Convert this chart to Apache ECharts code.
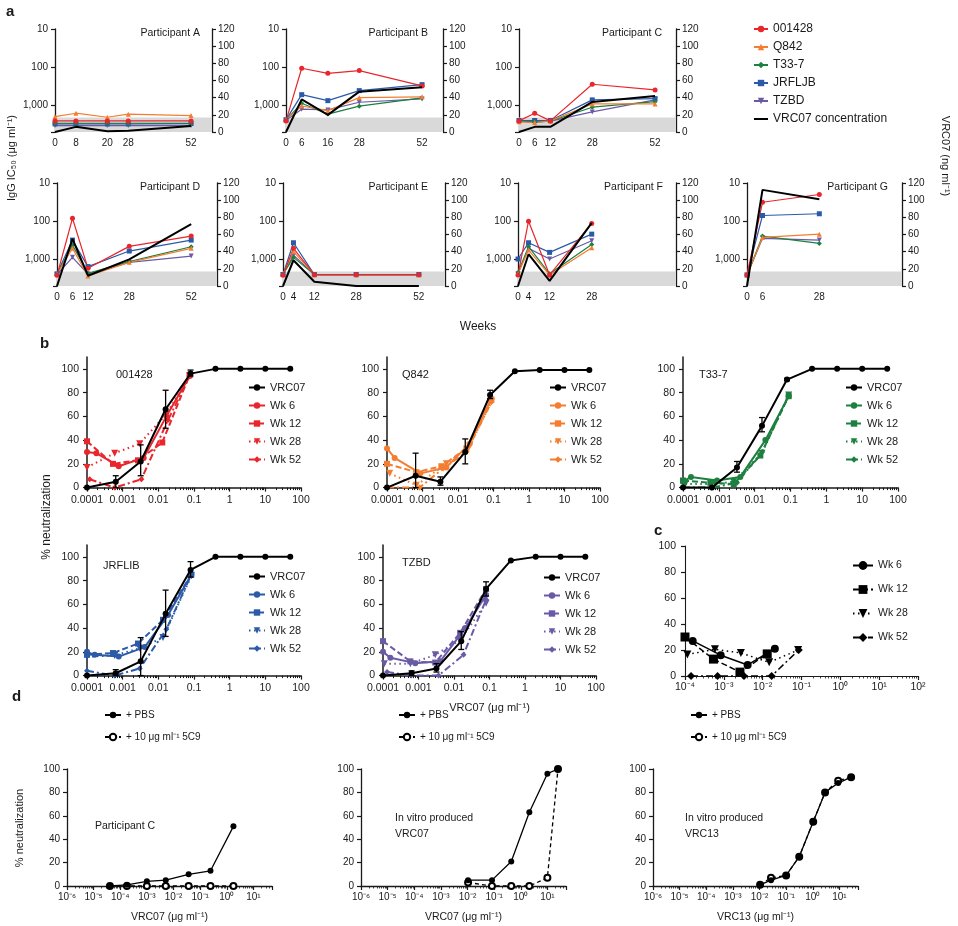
<!DOCTYPE html>
<html><head><meta charset="utf-8">
<script src="https://cdn.jsdelivr.net/npm/echarts@6/dist/echarts.min.js"></script>
<style>html,body{margin:0;padding:0;background:#fff}#c{width:958px;height:926px}</style>
</head><body><div id="c"></div>
<script>
// ================= DATA =================
const strainNames = ['001428', 'Q842', 'T33-7', 'JRFLJB', 'TZBD'];
const lodBand = 17;
const weeksA = [0, 8, 20, 28, 52];
const ic50A = [[2560, 2560, 2560, 2560, 2560], [1980, 1610, 2050, 1710, 1860], [2950, 2950, 2950, 2950, 2950], [3070, 3070, 3070, 3070, 3000], [3390, 3390, 3390, 3390, 3390]];
const vrc07A = [0, 6, 1, 1.5, 7];
const weeksB = [0, 6, 16, 28, 52];
const ic50B = [[2560, 107, 145, 123, 310], [2400, 1040, 1380, 630, 600], [2450, 880, 1700, 1050, 640], [2400, 525, 754, 412, 287], [2450, 1260, 1320, 830, 680]];
const vrc07B = [0, 38, 20, 47, 52];
const weeksC = [0, 6, 12, 28, 52];
const ic50C = [[2560, 1610, 2560, 280, 395], [2700, 2830, 2560, 920, 920], [2600, 2700, 2600, 1120, 800], [2500, 2500, 2500, 720, 667], [2600, 2700, 2600, 1490, 720]];
const vrc07C = [0, 6, 6, 35, 42];
const weeksD = [0, 6, 12, 28, 52];
const ic50D = [[2620, 84, 1720, 457, 246], [2420, 516, 2730, 1200, 516], [2500, 424, 2320, 1150, 468], [2400, 313, 1550, 607, 313], [2500, 887, 2420, 1200, 820]];
const vrc07D = [0, 55, 12, 31, 72];
const weeksE = [0, 4, 12, 28, 52];
const ic50E = [[2620, 516, 2520, 2520, 2520], [2500, 630, 2520, 2520, 2520], [2500, 887, 2520, 2520, 2520], [2500, 368, 2520, 2520, 2520], [2500, 785, 2520, 2520, 2520]];
const vrc07E = [0, 30, 5, 0, 0];
const weeksF = [0, 4, 12, 28];
const ic50F = [[2570, 100, 2570, 115], [2400, 571, 2570, 497], [2200, 468, 2400, 407], [982, 368, 657, 219], [2400, 516, 982, 327]];
const vrc07F = [0, 37, 6, 73.5];
const weeksG = [0, 6, 28];
const ic50G = [[2570, 32, 20], [2570, 267, 219], [2600, 246, 383], [2570, 71, 64], [2600, 282, 313]];
const vrc07G = [0, 112, 101];

// Panel b
const bStrains = ['001428', 'Q842', 'T33-7', 'JRFLIB', 'TZBD'];
const weekNames = ['Wk 6', 'Wk 12', 'Wk 28', 'Wk 52'];
const vrcConc = [0.0001, 0.00064, 0.0032, 0.016, 0.08, 0.4, 2, 10, 50];
const vrcNeut = [[0, 5, 22, 66, 96, 100, 100, 100, 100], [0, 10, 5, 30, 78, 98, 99, 99, 99], [0, 0, 17, 52, 91, 100, 100, 100, 100], [0, 2, 12, 52, 89, 100, 100, 100, 100], [0, 2, 6, 29, 73, 97, 100, 100, 100]];
const errConc = [0.00064, 0.0032, 0.016, 0.08];
const errLow = [[0, 10, 50, 94], [0, 2, 20, 75], [0, 13, 47, 90], [0, 0, 33, 83], [0, 3, 22, 67]];
const errHigh = [[10, 36, 82, 99], [29, 9, 41, 82], [0, 22, 59, 92], [5, 32, 72, 96], [4, 10, 37, 79]];
const serumX = [
  [[1e-4, 1.83e-4, 7.73e-4, 3.88e-3, 0.0168, 0.0757], [1e-4, 5.36e-4, 2.69e-3, 0.0129, 0.0757], [1e-4, 5.97e-4, 3.0e-3, 0.0168, 0.0757], [1.19e-4, 5.97e-4, 3.34e-3, 0.0187, 0.0757]],
  [[1e-4, 1.64e-4, 8.7e-4, 4.7e-3, 0.0213, 0.087], [1e-4, 6.7e-4, 3.4e-3, 0.0172, 0.087], [1.19e-4, 6.7e-4, 4.7e-3, 0.0213, 0.087], [1e-4, 8.3e-4, 3.78e-3, 0.0172, 0.087]],
  [[1e-4, 1.67e-4, 8.9e-4, 3.98e-3, 0.0199, 0.089], [1e-4, 5.8e-4, 2.6e-3, 0.0144, 0.089], [1.16e-4, 7.98e-4, 2.6e-3, 0.016, 0.089], [1e-4, 6.4e-4, 3.2e-3, 0.016, 0.089]],
  [[1e-4, 1.64e-4, 7.73e-4, 4.14e-3, 0.0187, 0.084], [1e-4, 5.36e-4, 2.69e-3, 0.0135, 0.084], [1e-4, 5.97e-4, 3.0e-3, 0.0135, 0.084], [1e-4, 5.97e-4, 3.0e-3, 0.0168, 0.084]],
  [[1e-4, 1.61e-4, 8.1e-4, 4.09e-3, 0.0207, 0.08], [1e-4, 5.9e-4, 2.96e-3, 0.0149, 0.08], [1.09e-4, 5.9e-4, 2.96e-3, 0.0149, 0.08], [1.3e-4, 6.25e-4, 3.67e-3, 0.0185, 0.08]]
];
const serumY = [
  [[30, 29, 18, 25, 60, 94], [39, 20, 23, 38, 95], [17, 29, 37, 62, 94], [7, 0, 7, 57, 94]],
  [[33, 25, 12, 17, 37, 75], [20, 13, 18, 33, 74], [12, 2, 20, 35, 72], [0, 0, 16, 30, 72]],
  [[5, 9, 6, 9, 40, 77], [6, 4, 3, 27, 77], [3, 3, 5, 29, 78], [0, 0, 4, 30, 78]],
  [[20, 17.5, 16, 24, 51, 85], [17.5, 19, 27, 47, 85], [16, 17, 23, 32, 84], [4, 0, 6, 39, 85]],
  [[20, 15, 10.5, 12, 40, 68], [29, 12, 11, 36, 73], [10, 10, 17.5, 30, 61], [3, 0, 0, 17.5, 64]]
];

// Panel c
const cX = [[1.58e-4, 8.3e-4, 4.1e-3, 0.0206], [1e-4, 5.4e-4, 2.6e-3, 0.0131], [1.15e-4, 5.9e-4, 2.75e-3, 0.0147, 0.082], [1.43e-4, 6.9e-4, 3.3e-3, 0.017, 0.085]];
const cY = [[27, 16, 8.5, 21], [30, 13, 3, 17], [16.5, 20.6, 17.7, 10.5, 20], [0, 0, 0, 0, 20]];

// Panel d
const dNames = ['+ PBS', '+ 10 μg ml⁻¹ 5C9'];
const d1X = [4.1e-5, 1.78e-4, 1.0e-3, 5.1e-3, 0.037, 0.245, 1.78];
const d1PBS = [0, 1, 4, 5, 10, 13, 51];
const d15C9 = [0, 0, 0, 0, 0, 0, 0];
const d2X = [0.0105, 0.083, 0.44, 2.1, 10, 25];
const d2PBS = [5, 5, 21, 63, 96, 100];
const d25C9 = [3, 0, 0, 0, 7, 100];
const d3X = [0.0105, 0.027, 0.1, 0.31, 1.04, 2.9, 9, 27.6];
const d3PBS = [1, 5, 9, 25, 55, 80, 88, 93];
const d35C9 = [1, 7, 9, 25, 55, 80, 90, 93];

// ================= STYLE / LAYOUT =================
const FONT = '"Liberation Sans", Arial, Helvetica, sans-serif';
const INK = '#1a1a1a';
const strainColors = ['#e8262b', '#f47d30', '#1d8040', '#2b5aa8', '#6a5aa6'];
const strainSymbols = ['circle', 'triangle', 'diamond', 'rect', 'triangle'];
const strainRotate = [0, 0, 0, 0, 180];
const wkTypes = ['solid', [6, 3], [1.5, 3.5], [7, 3, 2, 3]];
const wkSymbols = ['circle', 'rect', 'triangle', 'diamond'];
const wkRotate = [0, 0, 180, 0];

const aPanels = [
  {name: 'A', weeks: weeksA, ic: ic50A, vrc: vrc07A, left: 55, top: 29, width: 157, xmax: 60, tx: 200},
  {name: 'B', weeks: weeksB, ic: ic50B, vrc: vrc07B, left: 286, top: 29, width: 157, xmax: 60, tx: 428},
  {name: 'C', weeks: weeksC, ic: ic50C, vrc: vrc07C, left: 519, top: 29, width: 157, xmax: 60, tx: 662},
  {name: 'D', weeks: weeksD, ic: ic50D, vrc: vrc07D, left: 57, top: 183, width: 160, xmax: 62, tx: 200},
  {name: 'E', weeks: weeksE, ic: ic50E, vrc: vrc07E, left: 283, top: 183, width: 162, xmax: 62, tx: 428},
  {name: 'F', weeks: weeksF, ic: ic50F, vrc: vrc07F, left: 518, top: 183, width: 158, xmax: 60, tx: 663},
  {name: 'G', weeks: weeksG, ic: ic50G, vrc: vrc07G, left: 747, top: 183, width: 155, xmax: 60, tx: 888}
];
const bPanels = [
  {left: 87, top: 357, width: 214, lgx: 248, lgy: 381, tx: 116, ty: 375},
  {left: 387, top: 357, width: 213, lgx: 549, lgy: 381, tx: 402, ty: 375},
  {left: 683, top: 357, width: 215, lgx: 845, lgy: 381, tx: 699, ty: 375},
  {left: 87, top: 545, width: 214, lgx: 248, lgy: 570, tx: 103, ty: 566},
  {left: 383, top: 545, width: 213, lgx: 543, lgy: 571, tx: 402, ty: 563}
];

const zip = (xs, ys) => xs.map((x, i) => [x, ys[i]]);
const supMap = {'-': '⁻', '0': '⁰', '1': '¹', '2': '²', '3': '³', '4': '⁴', '5': '⁵', '6': '⁶', '7': '⁷', '8': '⁸', '9': '⁹'};
const isPow = v => Math.abs(Math.log10(v) - Math.round(Math.log10(v))) < 1e-6;
const powLabel = v => isPow(v) ? '10' + String(Math.round(Math.log10(v))).split('').map(c => supMap[c]).join('') : '';
const decLabel = v => {
  if (!isPow(v)) return '';
  const e = Math.round(Math.log10(v));
  return e < 0 ? Number(Math.pow(10, e).toFixed(-e)).toString() : String(Math.pow(10, e));
};
const minorLogs = (lo, hi) => {
  const out = [];
  for (let e = Math.floor(lo); e < Math.ceil(hi); e++) for (let m = 2; m <= 9; m++) {
    const v = e + Math.log10(m);
    if (v > lo && v < hi) out.push(v);
  }
  return out;
};

const axLine = (w) => ({show: true, onZero: false, lineStyle: {color: INK, width: w || 1.3}});
const axTick = (len) => ({show: true, length: len || 4, lineStyle: {color: INK, width: 1.2}});

const option = {
  animation: false,
  backgroundColor: '#fff',
  textStyle: {fontFamily: FONT, color: INK},
  grid: [], xAxis: [], yAxis: [], series: [], legend: [], graphic: []
};
const gText = (text, x, y, opts) => option.graphic.push(Object.assign({
  type: 'text', x: x, y: y, silent: true,
  style: Object.assign({text: text, fill: INK, font: (opts && opts.font) || ('11px ' + FONT), textAlign: 'left', textVerticalAlign: 'middle'}, (opts && opts.style) || {})
}, (opts && opts.el) || {}));
// decorative minor-tick ruler on a log x axis (auxiliary value axis in log10 units)
const addRuler = (gi, lo, hi, w) => option.xAxis.push({gridIndex: gi, type: 'value', position: 'bottom', min: lo, max: hi,
  axisLine: {show: false, onZero: false}, axisLabel: {show: false}, splitLine: {show: false},
  axisTick: {show: true, length: 2.5, customValues: minorLogs(lo, hi), lineStyle: {color: INK, width: w || 1}}});

// ---------- Panel a ----------
aPanels.forEach((p, gi) => {
  option.grid.push({left: p.left, top: p.top, width: p.width, height: 103});
  option.xAxis.push({gridIndex: gi, type: 'value', min: 0, max: p.xmax,
    axisLine: {show: false, onZero: false}, axisTick: {show: false}, splitLine: {show: false},
    axisLabel: {customValues: p.weeks, fontSize: 10, color: INK, margin: 6, fontFamily: FONT}});
  option.yAxis.push({gridIndex: gi, type: 'log', logBase: 10, inverse: true, min: 10, max: 5000, position: 'left',
    axisLine: axLine(1.3), axisTick: axTick(4), splitLine: {show: false},
    axisLabel: {fontSize: 10, color: INK, margin: 7, fontFamily: FONT,
      formatter: v => (Math.abs(v - 10) < 1e-6 ? '10' : Math.abs(v - 100) < 1e-6 ? '100' : Math.abs(v - 1000) < 1e-6 ? '1,000' : '')}});
  option.yAxis.push({gridIndex: gi, type: 'value', min: 0, max: 120, interval: 20, position: 'right',
    axisLine: axLine(1.3), axisTick: axTick(4), splitLine: {show: false},
    axisLabel: {fontSize: 10, color: INK, margin: 6, fontFamily: FONT}});
  const yl = gi * 2, yr = gi * 2 + 1;
  for (let s = strainNames.length - 1; s >= 0; s--) {
    option.series.push({type: 'line', name: strainNames[s], xAxisIndex: gi, yAxisIndex: yl,
      data: zip(p.weeks, p.ic[s]), symbol: strainSymbols[s], symbolRotate: strainRotate[s], symbolSize: 5,
      lineStyle: {color: strainColors[s], width: 1.2}, itemStyle: {color: strainColors[s]}, z: 4});
  }
  option.series.push({type: 'line', name: 'VRC07 concentration', xAxisIndex: gi, yAxisIndex: yr,
    data: zip(p.weeks, p.vrc), symbol: 'none', lineStyle: {color: '#000', width: 2}, itemStyle: {color: '#000'}, z: 5,
    markArea: {silent: true, itemStyle: {color: '#d9d9d9'}, data: [[{yAxis: 0}, {yAxis: lodBand}]]}});
  gText('Participant ' + p.name, p.tx, p.top + 4, {font: '10.5px ' + FONT, style: {textAlign: 'right'}});
});
option.legend.push({left: 753, top: 22, orient: 'vertical', itemWidth: 14, itemHeight: 8, itemGap: 4, padding: 0,
  selectedMode: false, textStyle: {fontSize: 12, color: INK, fontFamily: FONT, lineHeight: 14},
  data: strainNames.concat([{name: 'VRC07 concentration', itemStyle: {opacity: 0}}])});

// ---------- Panel b ----------
bPanels.forEach((p, k) => {
  const gi = option.grid.length;
  option.grid.push({left: p.left, top: p.top, width: p.width, height: 130.6});
  const xi = option.xAxis.length;
  option.xAxis.push({gridIndex: gi, type: 'log', logBase: 10, min: 0.0001, max: 100, position: 'bottom',
    axisLine: axLine(1.5), axisTick: axTick(4), splitLine: {show: false},
    axisLabel: {fontSize: 10.5, color: INK, margin: 7, fontFamily: FONT, formatter: decLabel},
    name: k === 4 ? 'VRC07 (μg ml⁻¹)' : '', nameLocation: 'middle', nameGap: 27,
    nameTextStyle: {fontSize: 11, color: INK, fontFamily: FONT}});
  addRuler(gi, -4, 2, 1);
  const yi = option.yAxis.length;
  option.yAxis.push({gridIndex: gi, type: 'value', min: 0, max: 110, interval: 20,
    axisLine: axLine(1.5), axisTick: Object.assign(axTick(4), {customValues: [0, 20, 40, 60, 80, 100]}), splitLine: {show: false},
    axisLabel: {fontSize: 10.5, color: INK, margin: 8, fontFamily: FONT, customValues: [0, 20, 40, 60, 80, 100]}});
  const col = strainColors[k];
  for (let w = weekNames.length - 1; w >= 0; w--) {
    option.series.push({type: 'line', name: bStrains[k] + ':' + weekNames[w], xAxisIndex: xi, yAxisIndex: yi,
      data: zip(serumX[k][w], serumY[k][w]), symbol: wkSymbols[w], symbolRotate: wkRotate[w], symbolSize: w === 2 ? 7 : 6,
      lineStyle: {color: col, width: 2, type: wkTypes[w]}, itemStyle: {color: col}, z: 3});
  }
  option.series.push({type: 'line', name: bStrains[k] + ':VRC07', xAxisIndex: xi, yAxisIndex: yi,
    data: zip(vrcConc, vrcNeut[k]), symbol: 'circle', symbolSize: 6,
    lineStyle: {color: '#000', width: 2}, itemStyle: {color: '#000'}, z: 5});
  option.series.push({type: 'custom', xAxisIndex: xi, yAxisIndex: yi, z: 6, silent: true,
    data: errConc.map((x, i) => [x, errLow[k][i], errHigh[k][i]]), encode: {x: 0, y: [1, 2]},
    renderItem: (params, api) => {
      const x = api.value(0), lo = api.value(1), hi = api.value(2);
      if (hi - lo < 0.5) return {type: 'group', children: []};
      const p1 = api.coord([x, lo]), p2 = api.coord([x, hi]), w = 3;
      const st = {stroke: '#000', lineWidth: 1.3};
      return {type: 'group', children: [
        {type: 'line', shape: {x1: p1[0], y1: p1[1], x2: p2[0], y2: p2[1]}, style: st},
        {type: 'line', shape: {x1: p1[0] - w, y1: p1[1], x2: p1[0] + w, y2: p1[1]}, style: st},
        {type: 'line', shape: {x1: p2[0] - w, y1: p2[1], x2: p2[0] + w, y2: p2[1]}, style: st}]};
    }});
  option.legend.push({left: p.lgx, top: p.lgy, orient: 'vertical', itemWidth: 16, itemHeight: 8, itemGap: 5, padding: 0,
    selectedMode: false, textStyle: {fontSize: 11, color: INK, fontFamily: FONT, lineHeight: 13},
    formatter: n => n.split(':')[1],
    data: [bStrains[k] + ':VRC07'].concat(weekNames.map(w => bStrains[k] + ':' + w))});
  gText(bStrains[k], p.tx, p.ty, {font: '11px ' + FONT});
});

// ---------- Panel c ----------
{
  const gi = option.grid.length;
  option.grid.push({left: 685, top: 546, width: 233, height: 130});
  const xi = option.xAxis.length;
  option.xAxis.push({gridIndex: gi, type: 'log', logBase: 10, min: 0.0001, max: 100, position: 'bottom',
    axisLine: axLine(1.1), axisTick: axTick(4), splitLine: {show: false},
    axisLabel: {fontSize: 10.5, color: INK, margin: 6, fontFamily: FONT, formatter: powLabel}});
  addRuler(gi, -4, 2, 0.8);
  const yi = option.yAxis.length;
  option.yAxis.push({gridIndex: gi, type: 'value', min: 0, max: 100, interval: 20,
    axisLine: axLine(1.1), axisTick: axTick(4), splitLine: {show: false},
    axisLabel: {fontSize: 10.5, color: INK, margin: 9, fontFamily: FONT}});
  for (let w = weekNames.length - 1; w >= 0; w--) {
    option.series.push({type: 'line', name: 'c:' + weekNames[w], xAxisIndex: xi, yAxisIndex: yi,
      data: zip(cX[w], cY[w]), symbol: wkSymbols[w], symbolRotate: wkRotate[w], symbolSize: w === 1 ? 9 : 8,
      lineStyle: {color: '#000', width: 1.5, type: wkTypes[w]}, itemStyle: {color: '#000'}, z: 3});
  }
  option.legend.push({left: 852, top: 559, orient: 'vertical', itemWidth: 20, itemHeight: 11, itemGap: 11, padding: 0,
    selectedMode: false, textStyle: {fontSize: 10.5, color: INK, fontFamily: FONT, lineHeight: 13},
    formatter: n => n.split(':')[1], data: weekNames.map(w => 'c:' + w)});
}

// ---------- Panel d ----------
const dPanels = [
  {left: 67, x: d1X, pbs: d1PBS, mab: d15C9, xname: 'VRC07 (μg ml⁻¹)', lgx: 104, note: ['Participant C'], nx: 95, ny: 826},
  {left: 361, x: d2X, pbs: d2PBS, mab: d25C9, xname: 'VRC07 (μg ml⁻¹)', lgx: 398, note: ['In vitro produced', 'VRC07'], nx: 395, ny: 818},
  {left: 653, x: d3X, pbs: d3PBS, mab: d35C9, xname: 'VRC13 (μg ml⁻¹)', lgx: 690, note: ['In vitro produced', 'VRC13'], nx: 685, ny: 818}
];
dPanels.forEach((p) => {
  const gi = option.grid.length;
  option.grid.push({left: p.left, top: 769, width: 205, height: 117});
  const xi = option.xAxis.length;
  option.xAxis.push({gridIndex: gi, type: 'log', logBase: 10, min: 1e-6, max: 50, position: 'bottom',
    axisLine: axLine(1.3), axisTick: axTick(4), splitLine: {show: false},
    axisLabel: {fontSize: 10, color: INK, margin: 6, fontFamily: FONT, formatter: powLabel},
    name: p.xname, nameLocation: 'middle', nameGap: 26, nameTextStyle: {fontSize: 10.5, color: INK, fontFamily: FONT}});
  addRuler(gi, -6, Math.log10(50), 0.8);
  const yi = option.yAxis.length;
  option.yAxis.push({gridIndex: gi, type: 'value', min: 0, max: 100, interval: 20,
    axisLine: axLine(1.3), axisTick: axTick(4), splitLine: {show: false},
    axisLabel: {fontSize: 10, color: INK, margin: 7, fontFamily: FONT}});
  option.series.push({type: 'line', name: dNames[1], xAxisIndex: xi, yAxisIndex: yi, data: zip(p.x, p.mab),
    symbol: 'emptyCircle', symbolSize: 6, lineStyle: {color: '#000', width: 1.3, type: [4, 3]}, itemStyle: {color: '#000', borderWidth: 1.2}, z: 3});
  option.series.push({type: 'line', name: dNames[0], xAxisIndex: xi, yAxisIndex: yi, data: zip(p.x, p.pbs),
    symbol: 'circle', symbolSize: 6, lineStyle: {color: '#000', width: 1.3}, itemStyle: {color: '#000'}, z: 4});
  option.legend.push({left: p.lgx, top: 709, orient: 'vertical', itemWidth: 16, itemHeight: 8, itemGap: 10, padding: 0,
    selectedMode: false, textStyle: {fontSize: 10, color: INK, fontFamily: FONT, lineHeight: 12}, data: dNames});
  p.note.forEach((t, i) => gText(t, p.nx, p.ny + i * 16, {font: '10.5px ' + FONT}));
});

// ---------- Figure texts ----------
gText('a', 6, 12, {font: 'bold 15px ' + FONT});
gText('b', 40, 344, {font: 'bold 15px ' + FONT});
gText('c', 654, 531, {font: 'bold 15px ' + FONT});
gText('d', 12, 697, {font: 'bold 15px ' + FONT});
gText('IgG IC₅₀ (μg ml⁻¹)', 12, 158, {font: '11px ' + FONT, style: {textAlign: 'center'}, el: {rotation: Math.PI / 2}});
gText('VRC07 (ng ml⁻¹)', 945, 156, {font: '11px ' + FONT, style: {textAlign: 'center'}, el: {rotation: -Math.PI / 2}});
gText('Weeks', 478, 327, {font: '12px ' + FONT, style: {textAlign: 'center'}});
gText('% neutralization', 47, 517, {font: '12px ' + FONT, style: {textAlign: 'center'}, el: {rotation: Math.PI / 2}});
gText('% neutralization', 20, 828, {font: '11px ' + FONT, style: {textAlign: 'center'}, el: {rotation: Math.PI / 2}});

const chart = echarts.init(document.getElementById('c'), null, {renderer: 'canvas', width: 958, height: 926});
chart.setOption(option);
</script>
</body></html>
